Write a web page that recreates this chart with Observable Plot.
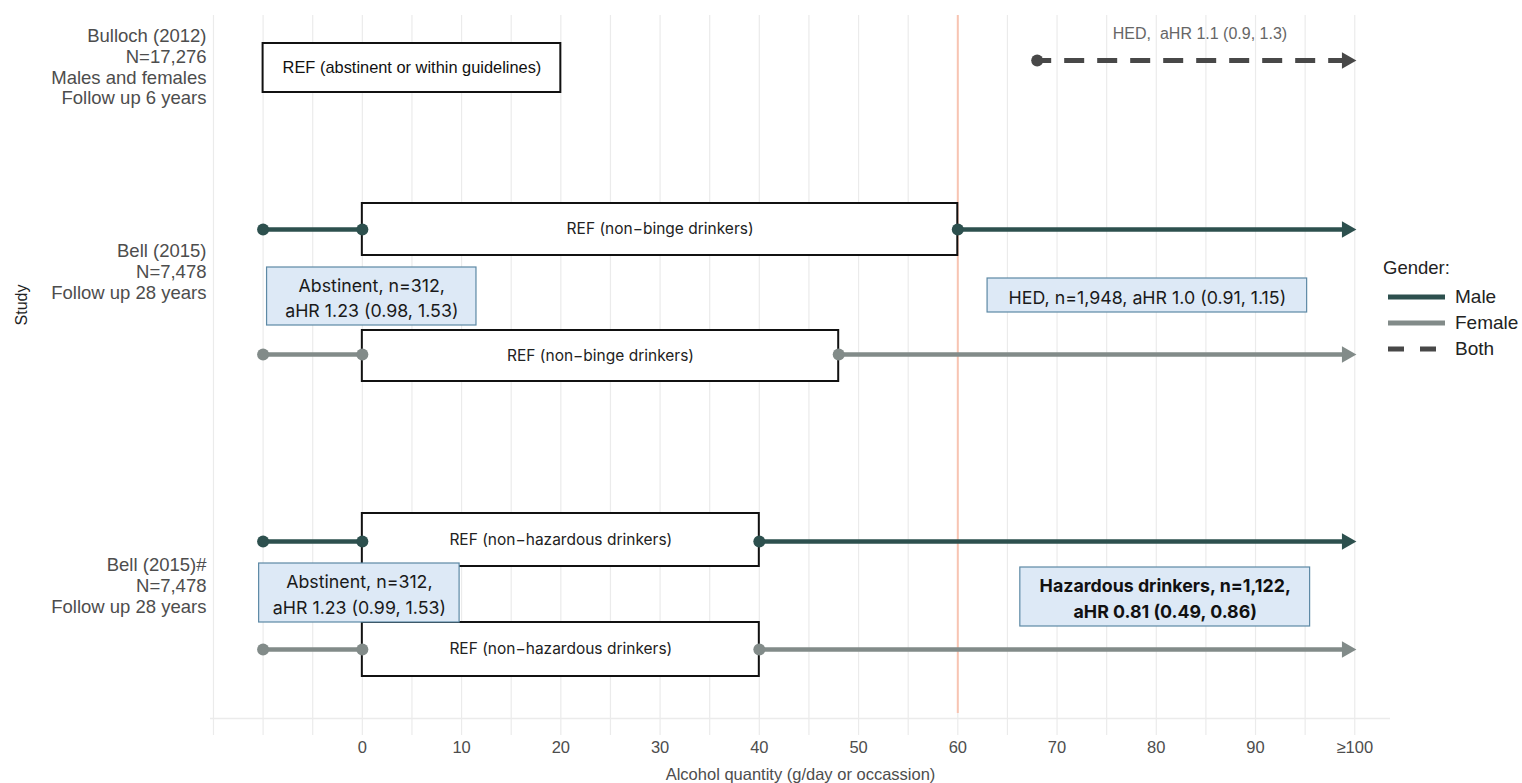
<!DOCTYPE html>
<html><head><meta charset="utf-8">
<script src="https://cdn.jsdelivr.net/npm/d3@7"></script>
<script src="https://cdn.jsdelivr.net/npm/@observablehq/plot@0.6"></script>
<style>
body{margin:0;background:#fff;}
#wrap{position:relative;width:1522px;height:783px;overflow:hidden;}
#ylab{position:absolute;left:12px;top:305px;transform:translate(-50%,-50%) rotate(-90deg);transform-origin:center;font:16px "Liberation Sans",Arial,sans-serif;color:#222;white-space:nowrap;margin-left:10px;}
#legend{position:absolute;left:1375px;top:250px;}
</style></head><body><div id="wrap"></div>
<script>
// ---- data ----
const studyLabels = [
  "Bulloch (2012)\nN=17,276\nMales and females\nFollow up 6 years",
  "Bell (2015)\nN=7,478\nFollow up 28 years",
  "Bell (2015)#\nN=7,478\nFollow up 28 years"
];
const studyY = [5.1, 25.6, 57.0];

// exposure segments
const segGender = ["Both","Male","Male","Female","Female","Male","Male","Female","Female"];
const segX1 = [68,-10,60,-10,48,-10,40,-10,40];
const segX2 = [100,0,100,0,100,0,100,0,100];
const segY  = [4.5,21.4,21.4,33.9,33.9,52.6,52.6,63.4,63.4];
const segArrow = [true,false,true,false,true,false,true,false,true];

// reference boxes
const refText = ["REF (abstinent or within guidelines)","REF (non\u2212binge drinkers)","REF (non\u2212binge drinkers)","REF (non\u2212hazardous drinkers)","REF (non\u2212hazardous drinkers)"];
const refX1 = [-10,0,0,0,0];
const refX2 = [20,60,48,40,40];
const refY1 = [2.8,18.8,31.5,49.8,60.7];
const refY2 = [7.7,24.0,36.6,55.1,66.1];

// annotation boxes
const annText = ["Abstinent, n=312,\naHR 1.23 (0.98, 1.53)","HED, n=1,948, aHR 1.0 (0.91, 1.15)","Abstinent, n=312,\naHR 1.23 (0.99, 1.53)","Hazardous drinkers, n=1,122,\naHR 0.81 (0.49, 0.86)"];
const annX1 = [-9.6,63.0,-10.4,66.3];
const annX2 = [11.5,95.2,9.8,95.5];
const annY1 = [25.2,26.3,54.8,55.2];
const annY2 = [31.0,29.7,60.7,61.1];
const annBold = [false,false,false,true];

const topLabel = ["HED,  aHR 1.1 (0.9, 1.3)"];
const topLabelX = [84.4];
const topLabelY = [1.8];

const xTicks = [0,10,20,30,40,50,60,70,80,90,100];
const gridX = d3.range(-15, 101, 5);
const thresholdX = [60];
const baseY = [70.3];

const genders = ["Male","Female","Both"];
const genderColors = ["#2d504e","#828b89","#484848"];

// ---- build ----
const segs = segGender.map((g,i)=>({g, x1:segX1[i], x2:segX2[i], y:segY[i], arrow:segArrow[i]}));
const dots = [];
segs.forEach(s=>{ dots.push({g:s.g, x:s.x1, y:s.y}); if(!s.arrow) dots.push({g:s.g, x:s.x2, y:s.y}); });
const heads = segs.filter(s=>s.arrow).map(s=>({g:s.g, x:s.x2, y:s.y}));
const refs = refText.map((t,i)=>({t, x1:refX1[i], x2:refX2[i], y1:refY1[i], y2:refY2[i]}));
const anns = annText.map((t,i)=>({t, x1:annX1[i], x2:annX2[i], y1:annY1[i], y2:annY2[i], bold:annBold[i]}));
const tops = topLabel.map((t,i)=>({t, x:topLabelX[i], y:topLabelY[i]}));
const studies = studyLabels.map((t,i)=>({t, y:studyY[i]}));

const sans = "'Liberation Sans',Arial,sans-serif";
const inter = "Inter,'Noto Sans',sans-serif";
const col = {domain: genders, range: genderColors};

const plot = Plot.plot({
  width: 1522, height: 783,
  marginLeft: 210, marginRight: 132, marginTop: 15, marginBottom: 48,
  style: {fontFamily: sans, fontSize: "16px", background: "#fff", color: "#4d4d4d"},
  x: {domain: [-15.3, 103.6]},
  y: {domain: [0, 72], reverse: true, axis: null},
  color: col,
  marks: [
    Plot.ruleX(gridX, {stroke: "#ebebeb", strokeWidth: 1.2}),
    Plot.ruleY(baseY, {stroke: "#ebebeb", strokeWidth: 1.6}),
    Plot.ruleX(thresholdX, {y1: 0, y2: 69.8, stroke: "#f8c4b2", strokeWidth: 2}),
    Plot.axisX({ticks: xTicks, tickFormat: d => d === 100 ? "\u2265100" : String(d), tickSize: 0, tickPadding: 6,
      fontSize: 16.5, fill: "#4d4d4d", label: "Alcohol quantity (g/day or occassion)", labelAnchor: "center", labelOffset: 44, labelArrow: "none"}),
    Plot.rect(refs, {x1: "x1", x2: "x2", y1: "y1", y2: "y2", fill: "#fff", stroke: "#111", strokeWidth: 2}),
    Plot.text(refs.slice(0,1), {x: d => (d.x1+d.x2)/2, y: d => (d.y1+d.y2)/2, text: "t", fontFamily: sans, fontSize: 16.4, fill: "#111"}),
    Plot.text(refs.slice(1), {x: d => (d.x1+d.x2)/2, y: d => (d.y1+d.y2)/2, text: "t", fontFamily: inter, fontSize: 15.5, fill: "#222"}),
    Plot.link(segs.filter(s=>s.g!=="Both"), {x1: "x1", x2: d => d.arrow ? d.x2 - 0.6 : d.x2, y1: "y", y2: "y", stroke: d => d.g, strokeWidth: 4.5}),
    Plot.link(segs.filter(s=>s.g==="Both"), {x1: "x1", x2: d => d.x2 - 0.6, y1: "y", y2: "y", stroke: d => d.g, strokeWidth: 5, strokeDasharray: "20,13", strokeDashoffset: 6}),
    Plot.dot(dots, {x: "x", y: "y", fill: d => d.g, r: 6}),
    Plot.dot(heads, {x: "x", y: "y", fill: d => d.g, symbol: "triangle", rotate: 90, r: 6.2, dx: -8}),
    Plot.rect(anns, {x1: "x1", x2: "x2", y1: "y1", y2: "y2", fill: "#dde9f6", stroke: "#5d89a5", strokeWidth: 1.2}),
    Plot.text(anns.filter(a=>!a.bold), {x: d => (d.x1+d.x2)/2, y: d => (d.y1+d.y2)/2, text: "t", fontFamily: inter, fontSize: 17.8, lineHeight: 1.42, fill: "#1a1a1a", lineAnchor: "middle"}),
    Plot.text(anns.filter(a=>a.bold), {x: d => (d.x1+d.x2)/2, y: d => (d.y1+d.y2)/2, text: "t", fontFamily: inter, fontSize: 17.8, fontWeight: "bold", lineHeight: 1.42, fill: "#111", lineAnchor: "middle"}),
    Plot.text(tops, {x: "x", y: "y", text: "t", fontFamily: sans, fontSize: 16, fill: "#666"}),
    Plot.text(studies, {y: "y", text: "t", frameAnchor: "left", textAnchor: "end", dx: -4, lineAnchor: "middle", lineHeight: 1.12, fontFamily: sans, fontSize: 18.5, fill: "#4d4d4d"})
  ]
});

const wrap = document.getElementById("wrap");
wrap.appendChild(plot);
const yl = document.createElement("div"); yl.id = "ylab"; yl.textContent = "Study"; wrap.appendChild(yl);

// legend
const lg = d3.create("svg").attr("id","legend").attr("width",147).attr("height",120);
lg.append("text").attr("x",8).attr("y",24).attr("font-family",sans).attr("font-size",18.5).attr("fill","#222").text("Gender:");
genders.forEach((g,i)=>{
  const yy = 47 + i*26;
  lg.append("line").attr("x1",13).attr("x2",70).attr("y1",yy).attr("y2",yy).attr("stroke",genderColors[i]).attr("stroke-width",5)
    .attr("stroke-dasharray", g==="Both" ? "16,16" : null);
  lg.append("text").attr("x",80).attr("y",yy+6).attr("font-family",sans).attr("font-size",19).attr("fill","#222").text(g);
});
wrap.appendChild(lg.node());
</script>
</body></html>
